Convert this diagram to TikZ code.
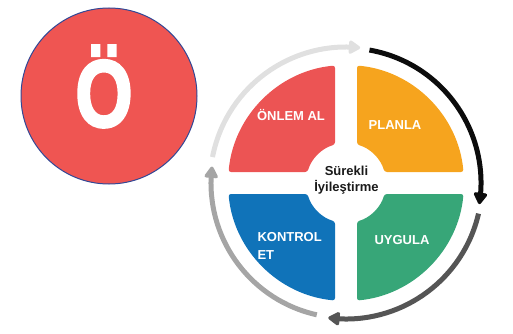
\documentclass[tikz,border=0pt]{standalone}
\usepackage{fontspec}
\setmainfont{Liberation Sans}
\newfontfamily\heavyfont{Liberation Sans Bold}[FakeBold=3]
\usetikzlibrary{arrows.meta,bending,calc}
\definecolor{qred}{RGB}{236,84,84}
\definecolor{qorange}{RGB}{246,164,30}
\definecolor{qgreen}{RGB}{55,166,120}
\definecolor{qblue}{RGB}{16,115,185}
\definecolor{alight}{RGB}{224,224,224}
\definecolor{ablack}{RGB}{12,12,12}
\definecolor{adark}{RGB}{85,85,85}
\definecolor{amid}{RGB}{165,165,165}
\definecolor{bigred}{RGB}{239,85,82}
\definecolor{bigedge}{RGB}{50,72,150}
\tikzset{
  qlabel/.style={text=white, font=\bfseries\fontsize{13}{16}\selectfont, inner sep=0pt},
  ring/.style={line width=5pt, -{Triangle[length=13pt,width=15pt,round]}},
}
\begin{document}
\begin{tikzpicture}[x=1pt,y=1pt]
\useasboundingbox (0,0) rectangle (513,333);
% left circle
\node[circle, draw=bigedge, line width=1pt, fill=bigred, minimum size=176pt, inner sep=0pt] (badge) at (109,237) {};
\node[text=white, font=\heavyfont\fontsize{92}{92}\selectfont, xscale=0.8, yscale=1.03, inner sep=0pt, anchor=base] (letter) at (104,206.5) {Ö};
% cycle
\coordinate (C) at (346,150);
\foreach \ang/\col in {0/qorange, 90/qred, 180/qblue, 270/qgreen}{
  \begin{scope}[shift={(C)}, rotate=\ang]
    \fill[\col, rounded corners=2.5pt] (5.35:118) arc[start angle=5.35, end angle=84.65, radius=118]
      -- (74.04:40) arc[start angle=74.04, end angle=15.96, radius=40] -- cycle;
  \end{scope}
}
\fill[white] (C) circle[radius=38];
% ring arrows
\draw[ring, alight] ($(C)+(169:136)$) arc[start angle=169, end angle=84, radius=136];
\draw[ring, ablack] ($(C)+(80:135)$) arc[start angle=80, end angle=-9, radius=135];
\draw[ring, adark] ($(C)+(-13:136)$) arc[start angle=-13, end angle=-97.5, radius=136];
\draw[ring, amid] ($(C)+(-102.5:135)$) arc[start angle=-102.5, end angle=-187, radius=135];
% labels
\node[qlabel] (onlem) at (291,217.7) {ÖNLEM AL};
\node[qlabel] (planla) at (395,208) {PLANLA};
\node[qlabel] (uygula) at (402,92.7) {UYGULA};
\node[qlabel, anchor=north west, align=left, font=\bfseries\fontsize{13}{18}\selectfont] (kontrol) at (257.3,101) {KONTROL\\ET};
\node[text=black!90, font=\bfseries\fontsize{13}{16.5}\selectfont, align=center, inner sep=0pt] (center) at (346.5,153) {Sürekli\\İyileştirme};
\end{tikzpicture}
\end{document}
